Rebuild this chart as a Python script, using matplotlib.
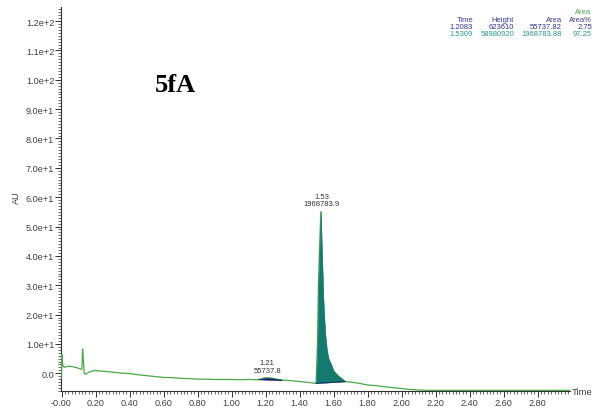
import numpy as np
import matplotlib
matplotlib.use("Agg")
import matplotlib.pyplot as plt
from matplotlib.ticker import FixedLocator, MultipleLocator, FixedFormatter

# Chromatogram trace (time in min, response in AU)
time = [0.000, 0.002, 0.006, 0.015, 0.030, 0.050, 0.070, 0.090, 0.110, 0.120,
        0.124, 0.128, 0.134, 0.140, 0.160, 0.180, 0.200, 0.250, 0.300, 0.350,
        0.400, 0.450, 0.500, 0.550, 0.600, 0.650, 0.700, 0.750, 0.800, 0.850,
        0.900, 0.950, 1.000, 1.050, 1.100, 1.150, 1.170, 1.190, 1.210, 1.230,
        1.260, 1.290, 1.350, 1.400, 1.450, 1.490, 1.497, 1.505, 1.511, 1.517,
        1.525, 1.530, 1.534, 1.540, 1.550, 1.560, 1.570, 1.589, 1.600, 1.620,
        1.640, 1.656, 1.668, 1.700, 1.750, 1.800, 1.850, 1.900, 1.950, 2.000,
        2.050, 2.100, 2.150, 2.200, 2.300, 2.400, 2.500, 2.600, 2.700, 2.800,
        2.900, 2.985]
signal = [-1.5, 6.3, 3.0, 2.0, 2.3, 2.4, 2.2, 1.9, 1.5, 1.4,
          8.3, 5.0, -0.2, -0.3, 0.3, 0.8, 0.9, 0.7, 0.4, 0.1,
          -0.1, -0.5, -0.8, -1.1, -1.4, -1.5, -1.7, -1.8, -2.0, -2.0,
          -2.1, -2.1, -2.1, -2.2, -2.1, -2.2, -2.0, -1.6, -1.5, -1.6,
          -1.9, -2.3, -2.5, -2.8, -3.1, -3.4, -3.4, 10.0, 31.0, 42.0,
          55.1, 44.0, 36.5, 25.2, 13.9, 8.2, 5.0, 2.5, 0.8, -0.5,
          -1.5, -2.2, -2.8, -3.0, -3.4, -4.0, -4.2, -4.6, -4.9, -5.2,
          -5.5, -5.7, -5.8, -5.8, -5.8, -5.8, -5.8, -5.8, -5.8, -5.8,
          -5.8, -5.8]

# Integrated peaks: retention time, area, start/end of integration
peak_rt = [1.21, 1.53]
peak_area = [55737.8, 1968783.9]
peak_start = [1.160, 1.497]
peak_end = [1.295, 1.668]
peak_fill = ["#142a5c", "#137a70"]

# Peak table
table_header = ["Time", "Height", "Area", "Area%"]
table_rows = [["1.2083", "623610", "55737.82", "2.75"],
              ["1.5309", "58980920", "1968783.88", "97.25"]]
row_colors = ["#2e2e9e", "#2a9a8a"]

y_ticks = [0, 10, 20, 30, 40, 50, 60, 70, 80, 90, 100, 110, 120]
y_labels = ["0.0", "1.0e+1", "2.0e+1", "3.0e+1", "4.0e+1", "5.0e+1", "6.0e+1",
            "7.0e+1", "8.0e+1", "9.0e+1", "1.0e+2", "1.1e+2", "1.2e+2"]
x_ticks = [0.0, 0.2, 0.4, 0.6, 0.8, 1.0, 1.2, 1.4, 1.6, 1.8, 2.0, 2.2, 2.4, 2.6, 2.8]
x_labels = ["-0.00", "0.20", "0.40", "0.60", "0.80", "1.00", "1.20", "1.40",
            "1.60", "1.80", "2.00", "2.20", "2.40", "2.60", "2.80"]

plt.rcParams["font.family"] = ["Liberation Sans", "DejaVu Sans"]

fig = plt.figure(figsize=(5.92, 4.10), dpi=100)
ax = fig.add_axes([61 / 592, 1 - 392 / 410, 509 / 592, 384 / 410])

t = np.array(time)
s = np.array(signal)

ax.plot(t, s, color="#48a848", lw=0.9, zorder=4)

# shaded integrated areas between trace and a straight baseline
for t0, t1, col in zip(peak_start, peak_end, peak_fill):
    m = (t >= t0) & (t <= t1)
    tt = np.concatenate([[t0], t[m], [t1]])
    ss = np.concatenate([[np.interp(t0, t, s)], s[m], [np.interp(t1, t, s)]])
    base = np.interp(tt, [t0, t1], [ss[0], ss[-1]])
    ax.fill_between(tt, base, ss, color=col, lw=0.3, edgecolor=col, zorder=5)
    ax.plot([t0, t1], [ss[0], ss[-1]], color="#1a2a60", lw=0.7, zorder=6)

# peak annotations above each apex
for rt, area, t0, t1 in zip(peak_rt, peak_area, peak_start, peak_end):
    m = (t >= t0) & (t <= t1)
    top = s[m].max()
    ax.annotate(f"{rt:.2f}\n{area:.1f}", xy=(rt, top), xytext=(0, 3),
                textcoords="offset points", ha="center", va="bottom",
                fontsize=5.5, color="#333333", linespacing=1.1)

ax.set_xlim(-0.003, 2.99)
ax.set_ylim(-6.03, 124.8)

for side in ("top", "right"):
    ax.spines[side].set_visible(False)
for side in ("left", "bottom"):
    ax.spines[side].set_color("#303030")
    ax.spines[side].set_linewidth(0.8)

ax.yaxis.set_major_locator(FixedLocator(y_ticks))
ax.yaxis.set_major_formatter(FixedFormatter(y_labels))
ax.yaxis.set_minor_locator(MultipleLocator(1))
ax.xaxis.set_major_locator(FixedLocator(x_ticks))
ax.xaxis.set_major_formatter(FixedFormatter(x_labels))
ax.xaxis.set_minor_locator(MultipleLocator(0.02))
ax.tick_params(which="major", length=4, width=0.7, color="#303030",
               labelsize=6.6, labelcolor="#404040", pad=0.8)
ax.tick_params(which="minor", length=2, width=0.5, color="#303030")

fig.text(16 / 592, 1 - 198 / 410, "AU", rotation=90, ha="center", va="center",
         fontsize=6.5, color="#404040")
fig.text(572 / 592, 1 - 393 / 410, "Time", ha="left", va="center",
         fontsize=6.8, color="#404040")

fig.text(155 / 592, 1 - 92 / 410, "5fA", ha="left", va="baseline",
         fontsize=19, fontweight="bold", family="Liberation Serif")

# peak table at top right
col_right = [473, 514, 562, 592]
fig.text(575 / 592, 1 - 13 / 410, "Area", ha="left", va="center",
         fontsize=5.5, color="#4aa64a")
for x, h in zip(col_right, table_header):
    fig.text(x / 592, 1 - 20.7 / 410, h, ha="right", va="center",
             fontsize=5.5, color="#3b3b9b")
for r, (row, col) in enumerate(zip(table_rows, row_colors)):
    y = 27.3 + 6.7 * r
    for x, v in zip(col_right, row):
        fig.text(x / 592, 1 - y / 410, v, ha="right", va="center",
                 fontsize=5.5, color=col)

fig.savefig("out.png", dpi=100)
